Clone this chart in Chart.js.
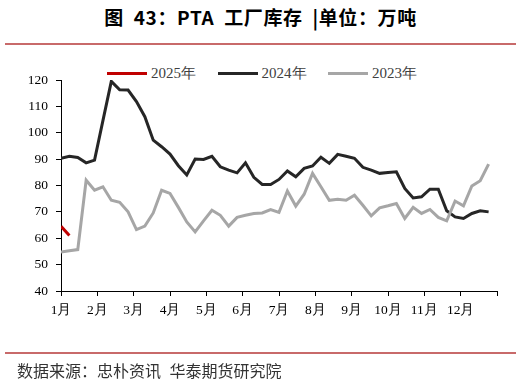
<!DOCTYPE html>
<html>
<head>
<meta charset="utf-8">
<script src="https://cdn.jsdelivr.net/npm/chart.js@4/dist/chart.umd.min.js"></script>
<style>
  html, body { margin: 0; padding: 0; background: #fff; }
  #wrap { position: relative; width: 521px; height: 383px; overflow: hidden; background: #fff; }
  #title { position: absolute; left: 0; top: 4px; width: 521px; text-align: center;
           font-family: "Noto Sans CJK SC", sans-serif; font-weight: bold; font-size: 19px;
           line-height: 26px; color: #000; letter-spacing: 0.6px; word-spacing: 5px; white-space: pre; }
  .rule { position: absolute; left: 5px; width: 511px; height: 2px; background: #C86A6A; }
  #legend { position: absolute; left: 107px; top: 63px; height: 20px; display: flex; }
  .item { display: flex; align-items: center; width: 110.5px; height: 20px; }
  .swatch { width: 40px; height: 3px; margin-right: 4px; }
  .ltxt { font-family: "Liberation Serif", serif; font-size: 15px; color: #404040; line-height: 20px; }
  #footer { position: absolute; left: 17px; top: 359px; font-family: "Noto Sans CJK SC", sans-serif;
            font-size: 16px; line-height: 22px; color: #333; word-spacing: 5px; white-space: pre; }
  #c { position: absolute; left: 0; top: 0; }
</style>
</head>
<body>
<div id="wrap">
  <div id="title">图 43：PTA 工厂库存 |单位：万吨</div>
  <div class="rule" style="top:43px"></div>
  <div id="legend"></div>
  <canvas id="c" width="521" height="383"></canvas>
  <div class="rule" style="top:352px"></div>
  <div id="footer">数据来源：忠朴资讯 华泰期货研究院</div>
</div>
<script>
// ---- data ----
const monthLabels = ['1月','2月','3月','4月','5月','6月','7月','8月','9月','10月','11月','12月'];
const seriesNames = ['2025年','2024年','2023年'];
const seriesColors = ['#C00000','#262626','#A6A6A6'];
const yTicks = [40, 50, 60, 70, 80, 90, 100, 110, 120];
const weeksPerYear = 52;

const values2025 = [64.5, 61.0];
const values2024 = [90.3, 91.1, 90.6, 88.6, 89.6, 104.6, 119.5, 116.3, 116.2, 111.8,
                    106.1, 97.2, 94.7, 91.9, 87.5, 84.0, 90.0, 89.9, 91.1, 87.1,
                    85.8, 84.8, 88.6, 83.1, 80.4, 80.4, 82.3, 85.5, 83.3, 86.5,
                    87.4, 90.7, 88.4, 91.8, 91.1, 90.3, 86.9, 85.8, 84.6, 84.9,
                    85.2, 78.9, 75.3, 75.7, 78.6, 78.6, 70.4, 68.1, 67.5, 69.4,
                    70.4, 70.0];
const values2023 = [54.8, 55.3, 55.7, 82.0, 78.2, 79.5, 74.4, 73.6, 70.0, 63.3,
                    64.6, 69.6, 78.2, 77.0, 71.7, 66.2, 62.4, 66.6, 70.6, 68.7,
                    64.6, 67.9, 68.7, 69.4, 69.6, 70.9, 69.8, 77.9, 72.2, 76.7,
                    84.6, 79.5, 74.4, 74.8, 74.4, 76.3, 72.5, 68.5, 71.5, 72.3,
                    73.2, 67.5, 71.7, 69.4, 70.9, 67.9, 66.6, 74.1, 72.3, 79.8,
                    81.8, 88.1];

// weekly values placed on a month-based axis
const toPoints = arr => arr.map((v, i) => ({ x: i * monthLabels.length / weeksPerYear, y: v }));
const allSeries = [values2025, values2024, values2023];

// legend (HTML)
const legendEl = document.getElementById('legend');
seriesNames.forEach((n, i) => {
  const it = document.createElement('div'); it.className = 'item';
  const sw = document.createElement('div'); sw.className = 'swatch'; sw.style.background = seriesColors[i];
  const tx = document.createElement('span'); tx.className = 'ltxt'; tx.textContent = n;
  it.appendChild(sw); it.appendChild(tx); legendEl.appendChild(it);
});

const tickFont = { family: '"Liberation Serif", "Times New Roman", serif', size: 13.5 };

new Chart(document.getElementById('c'), {
  type: 'line',
  data: {
    datasets: allSeries.map((arr, i) => ({
      label: seriesNames[i],
      data: toPoints(arr),
      borderColor: seriesColors[i],
      backgroundColor: seriesColors[i],
      borderWidth: 3,
      pointRadius: 0,
      tension: 0,
      fill: false
    })).reverse()
  },
  options: {
    responsive: false,
    devicePixelRatio: 1,
    animation: false,
    events: [],
    layout: { padding: { left: 0, right: 24, top: 80, bottom: 52 } },
    plugins: { legend: { display: false }, tooltip: { enabled: false } },
    scales: {
      x: {
        type: 'linear',
        min: 0,
        max: monthLabels.length,
        afterFit: s => { s.height = 40; },
        afterBuildTicks: s => { s.ticks = Array.from({ length: monthLabels.length + 1 }, (_, k) => ({ value: k })); },
        ticks: {
          autoSkip: false, maxRotation: 0, padding: 6,
          color: '#000', font: tickFont,
          callback: v => monthLabels[v] || ''
        },
        grid: { drawOnChartArea: false, drawTicks: true, tickLength: 5, color: '#000', lineWidth: 1 },
        border: { display: true, color: '#000', width: 1 }
      },
      y: {
        min: yTicks[0],
        max: yTicks[yTicks.length - 1],
        afterFit: s => { s.width = 61; },
        afterBuildTicks: s => { s.ticks = yTicks.map(v => ({ value: v })); },
        ticks: { padding: 8, color: '#000', font: tickFont },
        grid: { drawOnChartArea: false, drawTicks: true, tickLength: 5, color: '#000', lineWidth: 1 },
        border: { display: true, color: '#000', width: 1 }
      }
    }
  }
});
</script>
</body>
</html>
